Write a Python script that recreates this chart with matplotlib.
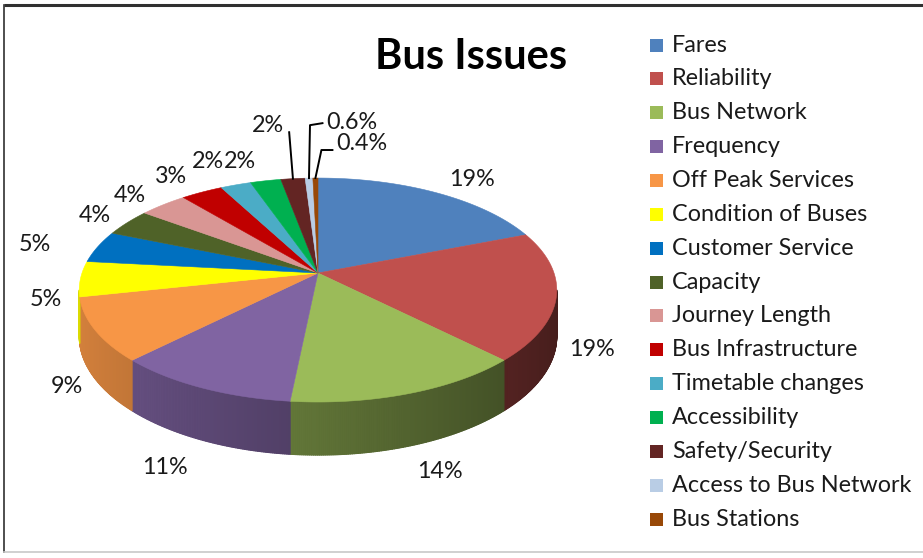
import numpy as np
import matplotlib
matplotlib.use("Agg")
import matplotlib.pyplot as plt
from matplotlib.patches import Polygon, Rectangle
from matplotlib.collections import PolyCollection
from matplotlib.colors import to_rgb

# ---------------- data ----------------
categories = ["Fares", "Reliability", "Bus Network", "Frequency", "Off Peak Services",
              "Condition of Buses", "Customer Service", "Capacity", "Journey Length",
              "Bus Infrastructure", "Timetable changes", "Accessibility", "Safety/Security",
              "Access to Bus Network", "Bus Stations"]
values = [19.0, 18.6, 14.0, 10.8, 9.2, 5.1, 4.6, 3.9, 3.8, 3.3, 2.4, 2.4, 1.9, 0.6, 0.4]
labels = ["19%", "19%", "14%", "11%", "9%", "5%", "5%", "4%", "4%", "3%",
          "2%", "2%", "2%", "0.6%", "0.4%"]
colors = ["#4F81BD", "#C0504D", "#9BBB59", "#8064A2", "#F79646", "#FFFF00", "#0070C0",
          "#4F6228", "#D99694", "#C00000", "#4BACC6", "#00B050", "#632523", "#B9CDE5",
          "#984807"]
title = "Bus Issues"

# ---------------- layout / style ----------------
W, Hpx = 923, 558
FONT = "Lato"
FS = 16.8
CX, CY = 318, 273          # apex of the pie (pixels)
A, B, K, DEPTH = 236, 109.4, 0.152, 45   # perspective projection of the disc
LBL_CX, LBL_CY, LBL_RX, LBL_RY = 318, 316, 285, 165
# label nudges (pixels) relative to the automatic position
nudges = [(-6, 0), (-5, 0), (27, 0), (-32, 2), (-1, -9), (12, -25), (-7, -30), (24, -19),
          (18, -7), (11, -2), (3, -3), (-5, 5), (-15, -27), (46, -29), (47, -8)]
leader = [False] * 12 + [True, True, True]

fig = plt.figure(figsize=(W / 100, Hpx / 100), dpi=100)
ax = fig.add_axes([0, 0, 1, 1])
ax.set_xlim(0, W)
ax.set_ylim(Hpx, 0)
ax.axis("off")


def proj(u, v, z=0.0):
    w = 1 + K * v
    return CX + A * u / w, CY - B * v / w + DEPTH * z / w


def shade(u):
    return 0.61 - 0.25 * u


vals = np.array(values, dtype=float)
edges = np.concatenate([[0], np.cumsum(vals)]) / vals.sum() * 360.0

# ---- side wall (visible front part) ----
phi_a = np.degrees(np.arccos(-K))
phi_b = 360 - phi_a
for i, c in enumerate(colors):
    s, e = max(edges[i], phi_a), min(edges[i + 1], phi_b)
    if e <= s:
        continue
    n = max(2, int((e - s) / 0.4) + 1)
    ph = np.radians(np.linspace(s, e, n))
    base = np.array(to_rgb(c))
    # underlay: whole wall of this slice in its mean shade (hides seams between strips)
    top = [proj(np.sin(p), np.cos(p)) for p in ph]
    bot = [proj(np.sin(p), np.cos(p), 1) for p in ph[::-1]]
    um = np.mean(np.sin(ph))
    ax.add_patch(Polygon(top + bot, closed=True, facecolor=np.clip(base * shade(um), 0, 1),
                         edgecolor="none", linewidth=0))
    polys, pcols = [], []
    for j in range(n - 1):
        p0, p1 = ph[j], ph[j + 1]
        u0, v0, u1, v1 = np.sin(p0), np.cos(p0), np.sin(p1), np.cos(p1)
        polys.append([proj(u0, v0), proj(u1, v1), proj(u1, v1, 1), proj(u0, v0, 1)])
        pcols.append(np.clip(base * shade(0.5 * (u0 + u1)), 0, 1))
    ax.add_collection(PolyCollection(polys, facecolors=pcols, edgecolors=pcols, linewidths=0.8))

# ---- top face ----
for i, c in enumerate(colors):
    ph = np.radians(np.linspace(edges[i], edges[i + 1], max(3, int(edges[i + 1] - edges[i]) * 2 + 2)))
    pts = [proj(0, 0)] + [proj(np.sin(p), np.cos(p)) for p in ph]
    ax.add_patch(Polygon(pts, closed=True, facecolor=c, edgecolor=c, linewidth=0.4))

# ---- data labels ----
for i, lab in enumerate(labels):
    pm = np.radians(0.5 * (edges[i] + edges[i + 1]))
    lx = LBL_CX + LBL_RX * np.sin(pm) + nudges[i][0]
    ly = LBL_CY - LBL_RY * np.cos(pm) + nudges[i][1]
    ax.text(lx, ly, lab, ha="center", va="center", fontsize=FS, family=FONT, color="#1a1a1a")
    if leader[i]:
        rx, ry = proj(np.sin(pm), np.cos(pm))
        if i == 12:
            ax.plot([lx + 21, rx], [ly + 7, ry], color="black", lw=1.4)
        else:
            sy = ly + (1 if i == 13 else 7)
            ax.plot([lx - 29, rx + (1 if i == 13 else 6), rx], [sy, sy + (2 if i == 13 else 0), ry],
                    color="black", lw=1.4)

# ---- title ----
ax.text(471, 57, title, ha="center", va="center", fontsize=30, fontweight="bold", family=FONT,
        color="black")

# ---- legend ----
LX, LY0, LSTEP, SQ = 650, 45, 33.86, 13
for i, (cat, c) in enumerate(zip(categories, colors)):
    y = LY0 + i * LSTEP
    ax.add_patch(Rectangle((LX, y - SQ / 2), SQ, SQ, facecolor=c, edgecolor="none"))
    ax.text(672, y, cat, ha="left", va="center", fontsize=FS, family=FONT, color="#1a1a1a")

# ---- chart frame ----
ax.plot([4, W + 2], [5, 5], color="#303030", lw=2.2, solid_capstyle="butt")
ax.plot([4, 4], [5, 552], color="#303030", lw=1.2)
ax.plot([4, W + 2], [552, 552], color="#c8c8c8", lw=1.2)

fig.savefig("out.png", dpi=100, facecolor="white")
